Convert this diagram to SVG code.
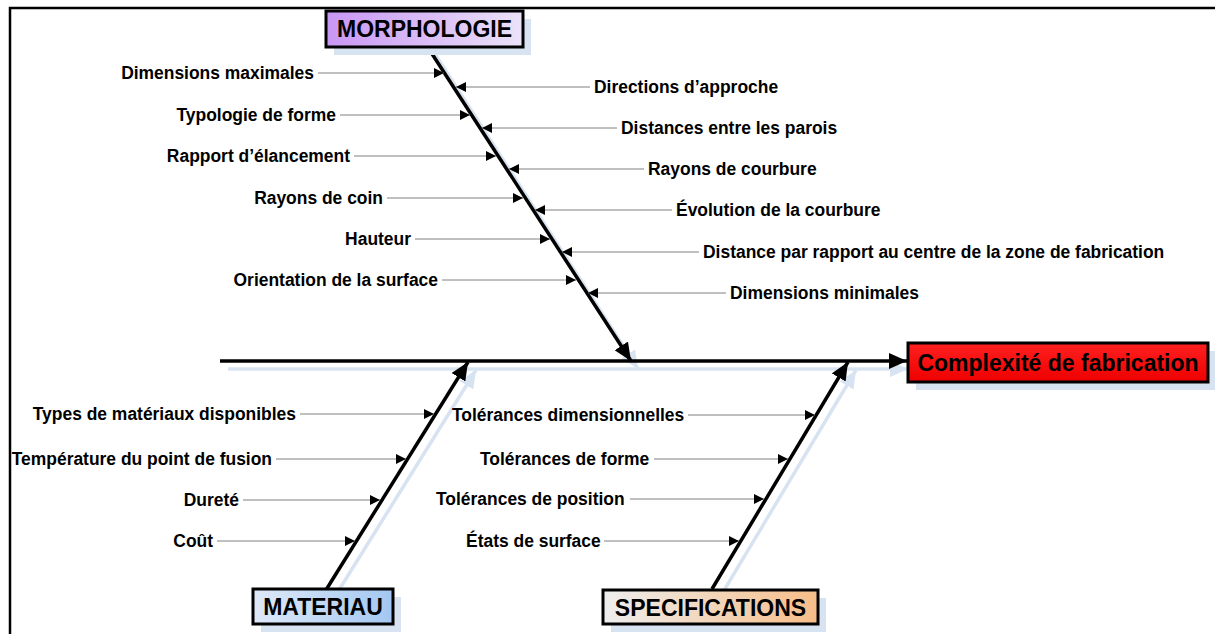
<svg xmlns="http://www.w3.org/2000/svg" width="1215" height="634" viewBox="0 0 1215 634">
<style>
.lbl{font-family:"Liberation Sans",Arial,sans-serif;font-weight:bold;font-size:17.45px;fill:#000}
.cat{font-family:"Liberation Sans",Arial,sans-serif;font-weight:bold;font-size:23px;fill:#000}
.br{stroke:#808080;stroke-width:1;fill:none;marker-end:url(#sa)}
.bone{stroke:#000;stroke-width:3.5;fill:none;marker-end:url(#ba)}
.sh{stroke:#d8e3f2;stroke-width:3.5;fill:none;marker-end:url(#bas)}
.box{stroke:#000;stroke-width:3}
.boxsh{fill:#d8e3f2}
</style>
<defs>
<marker id="sa" markerUnits="userSpaceOnUse" markerWidth="12" markerHeight="10" refX="10" refY="5" orient="auto"><path d="M0,0 L10,5 L0,10 Z" fill="#000"/></marker>
<marker id="ba" markerUnits="userSpaceOnUse" markerWidth="20" markerHeight="16" refX="18" refY="8" orient="auto"><path d="M0,0 L18,8 L0,16 Z" fill="#000"/></marker>
<marker id="bas" markerUnits="userSpaceOnUse" markerWidth="20" markerHeight="16" refX="18" refY="8" orient="auto"><path d="M0,0 L18,8 L0,16 Z" fill="#d8e3f2"/></marker>
<linearGradient id="gm" x1="0" y1="0" x2="1" y2="0"><stop offset="0" stop-color="#c896f4"/><stop offset="1" stop-color="#ebe3f8"/></linearGradient>
<linearGradient id="gc" x1="0" y1="0" x2="0" y2="1"><stop offset="0" stop-color="#ff2020"/><stop offset="1" stop-color="#ee0000"/></linearGradient>
<linearGradient id="ga" x1="0" y1="0" x2="1" y2="0"><stop offset="0" stop-color="#dfe9f8"/><stop offset="1" stop-color="#a3c7f2"/></linearGradient>
<linearGradient id="gs" x1="0" y1="0" x2="1" y2="0"><stop offset="0" stop-color="#eeeeee"/><stop offset="1" stop-color="#f7bd88"/></linearGradient>
</defs>
<rect width="1215" height="634" fill="#fff"/>
<g id="frame"><path d="M10,634 L10,8 L1215,8" stroke="#000" stroke-width="2.5" fill="none"/></g>

<g id="connectors">
<g id="shadows" transform="translate(8,8)">
<line class="sh" x1="220" y1="361" x2="900" y2="361"/>
<line class="sh" x1="427.6" y1="47" x2="630" y2="361"/>
<line class="sh" x1="326.6" y1="589" x2="468" y2="362"/>
<line class="sh" x1="712" y1="589" x2="848" y2="362"/>
</g>
<line class="bone" x1="220" y1="361" x2="907" y2="361"/>
<line class="bone" x1="427.6" y1="47" x2="631" y2="361"/>
<line class="bone" x1="326.6" y1="589" x2="468" y2="362"/>
<line class="bone" x1="712" y1="589" x2="848" y2="362"/>
<!-- morphologie left -->
<line class="br" x1="318" y1="73" x2="444" y2="73"/>
<line class="br" x1="340" y1="115" x2="470" y2="115"/>
<line class="br" x1="354" y1="156" x2="496" y2="156"/>
<line class="br" x1="387" y1="198" x2="523" y2="198"/>
<line class="br" x1="415" y1="239" x2="550" y2="239"/>
<line class="br" x1="442" y1="280" x2="576" y2="280"/>
<!-- morphologie right -->
<line class="br" x1="590" y1="87" x2="456" y2="87"/>
<line class="br" x1="617" y1="128" x2="482" y2="128"/>
<line class="br" x1="644" y1="169" x2="509" y2="169"/>
<line class="br" x1="672" y1="210" x2="535" y2="210"/>
<line class="br" x1="699" y1="252" x2="562" y2="252"/>
<line class="br" x1="726" y1="293" x2="588" y2="293"/>
<!-- materiau -->
<line class="br" x1="300" y1="414" x2="434" y2="414"/>
<line class="br" x1="276" y1="459" x2="406" y2="459"/>
<line class="br" x1="243" y1="500" x2="380" y2="500"/>
<line class="br" x1="217" y1="541" x2="355" y2="541"/>
<!-- specifications -->
<line class="br" x1="688" y1="415" x2="815" y2="415"/>
<line class="br" x1="654" y1="459" x2="788" y2="459"/>
<line class="br" x1="630" y1="499" x2="764" y2="499"/>
<line class="br" x1="604" y1="541" x2="739" y2="541"/>
</g>

<g id="labels">
<text class="lbl" x="314" y="79" text-anchor="end">Dimensions maximales</text>
<text class="lbl" x="336" y="121" text-anchor="end">Typologie de forme</text>
<text class="lbl" x="350" y="162" text-anchor="end">Rapport d’élancement</text>
<text class="lbl" x="383" y="204" text-anchor="end">Rayons de coin</text>
<text class="lbl" x="411" y="245" text-anchor="end">Hauteur</text>
<text class="lbl" x="438" y="286" text-anchor="end">Orientation de la surface</text>
<text class="lbl" x="594" y="93">Directions d’approche</text>
<text class="lbl" x="621" y="134">Distances entre les parois</text>
<text class="lbl" x="648" y="175">Rayons de courbure</text>
<text class="lbl" x="676" y="216">Évolution de la courbure</text>
<text class="lbl" x="703" y="258">Distance par rapport au centre de la zone de fabrication</text>
<text class="lbl" x="730" y="299">Dimensions minimales</text>
<text class="lbl" x="296" y="420" text-anchor="end">Types de matériaux disponibles</text>
<text class="lbl" x="272" y="465" text-anchor="end">Température du point de fusion</text>
<text class="lbl" x="239" y="506" text-anchor="end">Dureté</text>
<text class="lbl" x="213" y="547" text-anchor="end">Coût</text>
<text class="lbl" x="452" y="421">Tolérances dimensionnelles</text>
<text class="lbl" x="480" y="465">Tolérances de forme</text>
<text class="lbl" x="436" y="505">Tolérances de position</text>
<text class="lbl" x="466" y="547">États de surface</text>
</g>

<g id="morphologie">
<rect class="boxsh" x="334" y="19" width="197" height="36"/>
<rect class="box" x="326" y="11" width="197" height="36" fill="url(#gm)"/>
<text class="cat" x="424.5" y="37" text-anchor="middle">MORPHOLOGIE</text>
</g>
<g id="complexite">
<rect class="boxsh" x="916" y="351" width="300" height="39"/>
<rect class="box" x="908" y="343" width="300" height="39" fill="url(#gc)"/>
<text class="cat" x="1058" y="370.5" text-anchor="middle">Complexité de fabrication</text>
</g>
<g id="materiau">
<rect class="boxsh" x="261" y="597" width="140" height="35"/>
<rect class="box" x="253" y="589" width="140" height="35" fill="url(#ga)"/>
<text class="cat" x="323" y="615" text-anchor="middle">MATERIAU</text>
</g>
<g id="specifications">
<rect class="boxsh" x="611" y="598" width="215" height="34"/>
<rect class="box" x="603" y="590" width="215" height="34" fill="url(#gs)"/>
<text class="cat" x="710.5" y="615.5" text-anchor="middle">SPECIFICATIONS</text>
</g>
</svg>
